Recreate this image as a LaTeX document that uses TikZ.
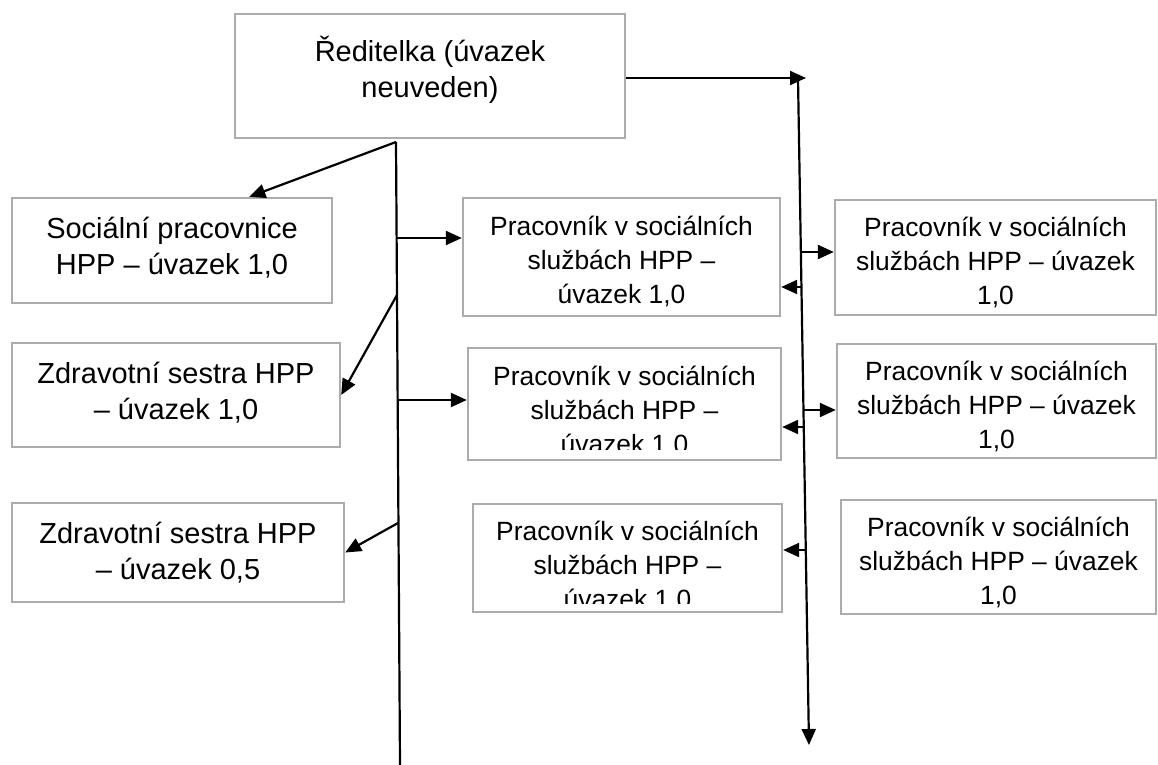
\documentclass[tikz,border=0pt]{standalone}
\usepackage{fontspec}
\setmainfont{Liberation Sans}
\usetikzlibrary{arrows.meta,positioning,fit,calc}
\definecolor{boxgray}{RGB}{172,172,172}

\begin{document}
\begin{tikzpicture}[
  x=0.5pt, y=-0.5pt,
  every node/.style={font=\fontsize{13.2}{17}\selectfont},
  box/.style={draw=boxgray, line width=1.2pt, inner sep=0pt},
  txt/.style={align=center, inner sep=0pt},
  big/.style={font=\fontsize{14.5}{18}\selectfont},
  arrow/.style={-{Triangle[length=8pt,width=7pt]}, line width=1.1pt},
  trunk/.style={line width=1.1pt}
]
\useasboundingbox (0,0) rectangle (1158,765);

% boxes
\node[box, fit={(235,14) (625,138)}] (boss) {};
\node[box, fit={(12,198) (332,303)}] (soc) {};
\node[box, fit={(12,343) (340,447)}] (zdr1) {};
\node[box, fit={(12,503) (344,602)}] (zdr2) {};
\node[box, fit={(463,198) (780,316)}] (mid1) {};
\node[box, fit={(468,348) (781,460)}] (mid2) {};
\node[box, fit={(473,504) (782,612)}] (mid3) {};
\node[box, fit={(835,200) (1156,315)}] (right1) {};
\node[box, fit={(837,344) (1156,458)}] (right2) {};
\node[box, fit={(841,500) (1156,614)}] (right3) {};

% texts
\node[txt, big, below=11.5pt of boss.north] (boss-t) {Ředitelka (úvazek\\neuveden)};
\node[txt, big, below=9.8pt of soc.north] (soc-t) {Sociální pracovnice\\HPP -- úvazek 1,0};
\node[txt, big, below=9.8pt of zdr1.north] (zdr1-t) {Zdravotní sestra HPP\\-- úvazek 1,0};
\node[txt, big, below=10pt of zdr2.north] (zdr2-t) {Zdravotní sestra HPP\\-- úvazek 0,5};
\node[txt, below=9.5pt of mid1.north] (mid1-t) {Pracovník v sociálních\\službách HPP --\\úvazek 1,0};
\begin{scope}
  \clip (mid2.north west) rectangle ([yshift=6pt]mid2.south east);
  \node[txt, below=9.5pt of mid2.north] (mid2-t) {Pracovník v sociálních\\službách HPP --\\úvazek 1.0};
\end{scope}
\begin{scope}
  \clip (mid3.north west) rectangle ([yshift=5pt]mid3.south east);
  \node[txt, below=9pt of mid3.north] (mid3-t) {Pracovník v sociálních\\službách HPP --\\úvazek 1.0};
\end{scope}
\node[txt, below=9pt of right1.north] (right1-t) {Pracovník v sociálních\\službách HPP -- úvazek\\1,0};
\node[txt, below=9pt of right2.north] (right2-t) {Pracovník v sociálních\\službách HPP -- úvazek\\1,0};
\node[txt, below=9pt of right3.north] (right3-t) {Pracovník v sociálních\\službách HPP -- úvazek\\1,0};

% left trunk
\coordinate (ta) at (396,142);
\coordinate (tb) at (400,765);
\coordinate (j2) at (397,238);
\coordinate (j3) at (397,295);
\coordinate (j4) at (398,400);
\coordinate (j5) at (398,523);
\draw[trunk] (ta) -- (tb);
\draw[arrow] (ta) -- ($(soc.north west)!0.74!(soc.north east)$);
\draw[arrow] (j2) -- (j2 -| mid1.west);
\draw[arrow] (j3) -- (zdr1.east);
\draw[arrow] (j4) -- (j4 -| mid2.west);
\draw[arrow] (j5) -- (zdr2.east);

% right trunk
\coordinate (ra) at (798,78);
\coordinate (rb) at (809,745);
\coordinate (k1) at (801,252);
\coordinate (k2) at (802,287);
\coordinate (k3) at (804,410);
\coordinate (k4) at (804,427);
\coordinate (k5) at (806,550);
\draw[arrow] (boss.east |- ra) -- (ra -| 806,0);
\draw[arrow] (ra) -- (rb);
\draw[arrow] (k1) -- (k1 -| right1.west);
\draw[arrow] (k2) -- (k2 -| mid1.east);
\draw[arrow] (k3) -- (k3 -| right2.west);
\draw[arrow] (k4) -- (k4 -| mid2.east);
\draw[arrow] (k5) -- (k5 -| mid3.east);
\end{tikzpicture}
\end{document}
